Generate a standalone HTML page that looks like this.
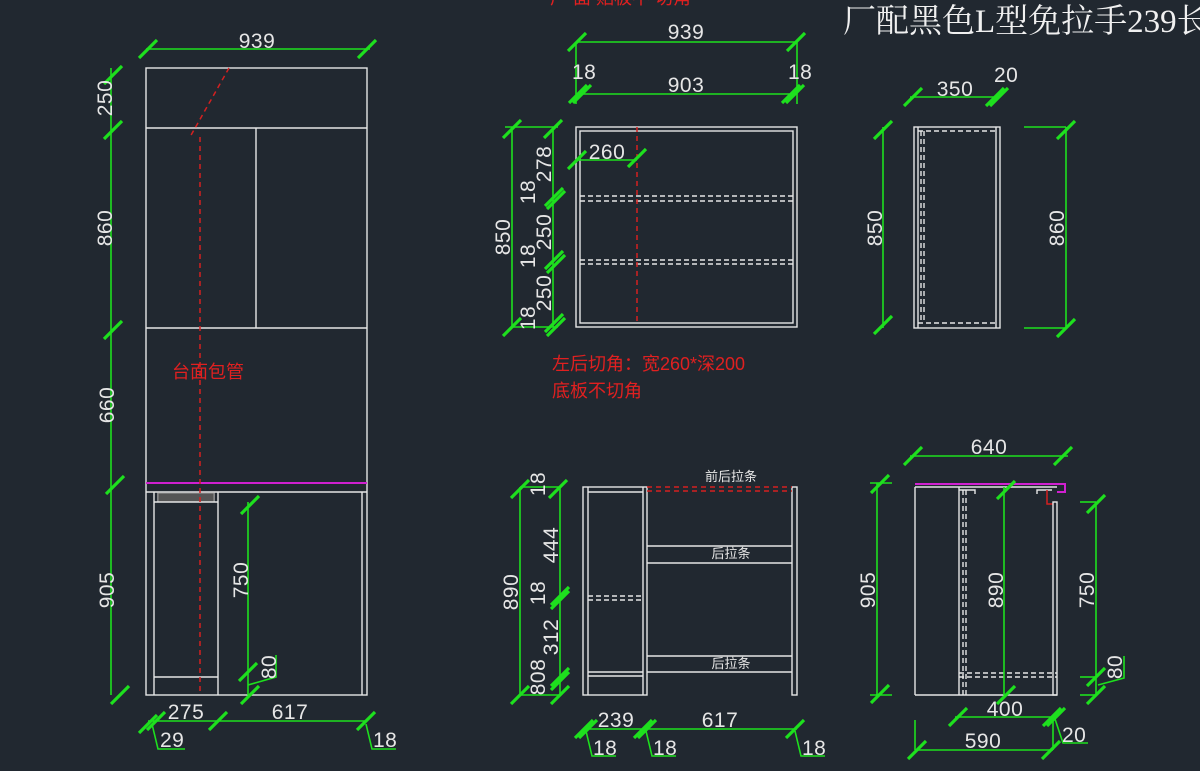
<!DOCTYPE html>
<html><head><meta charset="utf-8"><style>
body{margin:0;background:#212830;}
svg{display:block}
text{font-family:"Liberation Sans","Noto Sans CJK SC",sans-serif;fill:#e6e6e6;font-size:21px;letter-spacing:0.5px}
.c{text-anchor:middle}
.g{stroke:#1ee01e;stroke-width:1.6;fill:none}
.w{stroke:#e6e6e6;stroke-width:1.4;fill:none}
.wd{stroke:#e6e6e6;stroke-width:1.4;fill:none;stroke-dasharray:5 3}
.r{stroke:#d42020;stroke-width:1.5;fill:none;stroke-dasharray:5 4}
.m{stroke:#d020d0;stroke-width:2;fill:none}
.red{fill:#e02020;font-size:18px;letter-spacing:0}
</style></head><body>
<svg width="1200" height="771" viewBox="0 0 1200 771" xmlns="http://www.w3.org/2000/svg">
<defs><path id="t" d="M-9 9L9 -9" stroke="#1ee01e" stroke-width="3.2"/></defs>

<!-- title -->
<text x="843" y="32" style="font-family:'Liberation Serif','Noto Serif CJK SC',serif;font-size:33px;fill:#f0f0f0;letter-spacing:0">厂配黑色L型免拉手239长</text>
<text x="550" y="4" class="red">广 面 贴板不 切角</text>

<!-- ========== LEFT ELEVATION ========== -->
<rect x="146" y="68" width="221" height="627" class="w"/>
<line x1="146" y1="128" x2="367" y2="128" class="w"/>
<line x1="146" y1="328" x2="367" y2="328" class="w"/>
<line x1="256" y1="128" x2="256" y2="328" class="w"/>
<line x1="146" y1="483" x2="367" y2="483" class="m"/>
<line x1="146" y1="492" x2="367" y2="492" class="w"/>
<line x1="154" y1="492" x2="154" y2="695" class="w"/>
<line x1="218" y1="492" x2="218" y2="695" class="w"/>
<line x1="362" y1="492" x2="362" y2="695" class="w"/>
<line x1="158" y1="492" x2="158" y2="502" class="w"/>
<line x1="214" y1="492" x2="214" y2="502" class="w"/>
<rect x="158" y="493" width="56" height="9" fill="#555" stroke="#999" stroke-width="1"/>
<line x1="154" y1="502" x2="218" y2="502" class="w"/>
<line x1="154" y1="677" x2="218" y2="677" class="w"/>
<line x1="200" y1="137" x2="200" y2="695" class="r"/>
<line x1="229" y1="68" x2="190" y2="137" class="r"/>
<text x="172" y="378" class="red">台面包管</text>
<!-- dims -->
<line x1="146" y1="49" x2="370" y2="49" class="g"/>
<use href="#t" x="148" y="49"/><use href="#t" x="367" y="49"/>
<text x="257" y="48" class="c">939</text>
<line x1="111" y1="68" x2="111" y2="695" class="g"/>
<use href="#t" x="113" y="75"/><use href="#t" x="113" y="130"/><use href="#t" x="113" y="330"/><use href="#t" x="115" y="485"/><use href="#t" x="120" y="695"/>
<text transform="translate(112,98) rotate(-90)" class="c">250</text>
<text transform="translate(112,228) rotate(-90)" class="c">860</text>
<text transform="translate(114,405) rotate(-90)" class="c">660</text>
<text transform="translate(114,590) rotate(-90)" class="c">905</text>
<line x1="248" y1="502" x2="248" y2="695" class="g"/>
<use href="#t" x="250" y="505"/><use href="#t" x="248" y="672"/><use href="#t" x="250" y="695"/>
<text transform="translate(248,580) rotate(-90)" class="c">750</text>
<polyline points="248,685 276,677 276,655" class="g"/>
<text transform="translate(276,667) rotate(-90)" class="c">80</text>
<line x1="148" y1="721" x2="367" y2="721" class="g"/>
<use href="#t" x="148" y="724"/><use href="#t" x="156" y="721"/><use href="#t" x="218" y="721"/><use href="#t" x="366" y="721"/>
<text x="186" y="719" class="c">275</text><text x="290" y="719" class="c">617</text>
<polyline points="152,724 158,749 185,749" class="g"/><text x="160" y="747">29</text>
<polyline points="366,724 372,749 396,749" class="g"/><text x="373" y="747">18</text>

<!-- ========== MIDDLE TOP ========== -->
<line x1="576" y1="42" x2="797" y2="42" class="g"/>
<use href="#t" x="577" y="42"/><use href="#t" x="796" y="42"/>
<text x="686" y="39" class="c">939</text>
<line x1="576" y1="42" x2="576" y2="104" class="g"/><line x1="797" y1="42" x2="797" y2="104" class="g"/>
<line x1="576" y1="94" x2="796" y2="94" class="g"/>
<use href="#t" x="578" y="94"/><use href="#t" x="582" y="94"/><use href="#t" x="791" y="94"/><use href="#t" x="795" y="94"/>
<text x="686" y="92" class="c">903</text>
<text x="572" y="79">18</text><text x="788" y="79">18</text>
<rect x="576" y="127" width="221" height="200" class="w"/>
<rect x="580" y="131" width="213" height="192" class="w"/>
<line x1="580" y1="196" x2="793" y2="196" class="wd"/><line x1="580" y1="201" x2="793" y2="201" class="wd"/>
<line x1="580" y1="260" x2="793" y2="260" class="wd"/><line x1="580" y1="264" x2="793" y2="264" class="wd"/>
<line x1="637" y1="127" x2="637" y2="323" class="r"/>
<line x1="576" y1="160" x2="637" y2="160" class="g"/>
<use href="#t" x="577" y="160"/><use href="#t" x="637" y="158"/>
<text x="607" y="159" class="c">260</text>
<line x1="512" y1="127" x2="512" y2="327" class="g"/>
<line x1="505" y1="127" x2="558" y2="127" class="g"/>
<line x1="512" y1="327" x2="558" y2="327" class="g"/>
<use href="#t" x="512" y="129"/><use href="#t" x="512" y="327"/>
<line x1="553" y1="127" x2="553" y2="327" class="g"/>
<use href="#t" x="553" y="129"/><use href="#t" x="554" y="197"/><use href="#t" x="556" y="200"/><use href="#t" x="554" y="260"/><use href="#t" x="556" y="264"/><use href="#t" x="554" y="323"/><use href="#t" x="556" y="327"/>
<text transform="translate(510,237) rotate(-90)" class="c">850</text>
<text transform="translate(551,164) rotate(-90)" class="c">278</text>
<text transform="translate(535,192) rotate(-90)" class="c">18</text>
<text transform="translate(551,232) rotate(-90)" class="c">250</text>
<text transform="translate(535,256) rotate(-90)" class="c">18</text>
<text transform="translate(551,293) rotate(-90)" class="c">250</text>
<text transform="translate(535,318) rotate(-90)" class="c">18</text>
<text x="552" y="370" class="red">左后切角：宽260*深200</text>
<text x="552" y="397" class="red">底板不切角</text>

<!-- ========== MIDDLE BOTTOM ========== -->
<rect x="583" y="487" width="64" height="208" class="w"/>
<line x1="588" y1="487" x2="588" y2="695" class="w"/>
<line x1="643" y1="487" x2="643" y2="695" class="w"/>
<line x1="588" y1="492" x2="643" y2="492" class="w"/>
<line x1="588" y1="672" x2="643" y2="672" class="w"/>
<line x1="588" y1="676" x2="643" y2="676" class="w"/>
<line x1="588" y1="596" x2="643" y2="596" class="wd"/><line x1="588" y1="600" x2="643" y2="600" class="wd"/>
<rect x="792" y="487" width="5" height="208" class="w"/>
<line x1="647" y1="487" x2="792" y2="487" class="r"/><line x1="647" y1="491" x2="792" y2="491" class="r"/>
<line x1="647" y1="546" x2="792" y2="546" class="w"/><line x1="647" y1="563" x2="792" y2="563" class="w"/>
<line x1="647" y1="656" x2="792" y2="656" class="w"/><line x1="647" y1="672" x2="792" y2="672" class="w"/>
<text x="731" y="481" class="c" style="font-size:13px;letter-spacing:0">前后拉条</text>
<text x="731" y="558" class="c" style="font-size:13px;letter-spacing:0">后拉条</text>
<text x="731" y="668" class="c" style="font-size:13px;letter-spacing:0">后拉条</text>
<line x1="520" y1="487" x2="520" y2="695" class="g"/>
<line x1="520" y1="487" x2="560" y2="487" class="g"/><line x1="520" y1="695" x2="560" y2="695" class="g"/>
<line x1="560" y1="487" x2="560" y2="695" class="g"/>
<use href="#t" x="520" y="489"/><use href="#t" x="520" y="695"/>
<use href="#t" x="558" y="489"/><use href="#t" x="560" y="596"/><use href="#t" x="560" y="600"/><use href="#t" x="560" y="677"/><use href="#t" x="560" y="681"/><use href="#t" x="560" y="695"/>
<text transform="translate(518,592) rotate(-90)" class="c">890</text>
<text transform="translate(545,484) rotate(-90)" class="c">18</text>
<text transform="translate(558,545) rotate(-90)" class="c">444</text>
<text transform="translate(545,593) rotate(-90)" class="c">18</text>
<text transform="translate(558,637) rotate(-90)" class="c">312</text>
<text transform="translate(545,677) rotate(-90)" class="c">808</text>
<line x1="583" y1="729" x2="797" y2="729" class="g"/>
<use href="#t" x="584" y="729"/><use href="#t" x="588" y="729"/><use href="#t" x="643" y="729"/><use href="#t" x="647" y="729"/><use href="#t" x="795" y="729"/>
<text x="616" y="727" class="c">239</text><text x="720" y="727" class="c">617</text>
<polyline points="586,731 592,756 616,756" class="g"/><text x="593" y="755">18</text>
<polyline points="646,731 652,756 676,756" class="g"/><text x="653" y="755">18</text>
<polyline points="795,731 801,756 825,756" class="g"/><text x="802" y="755">18</text>

<!-- ========== RIGHT TOP ========== -->
<rect x="914" y="127" width="86" height="201" class="w"/>
<line x1="918" y1="127" x2="918" y2="328" class="w"/>
<line x1="921" y1="131" x2="921" y2="323" class="wd"/><line x1="924" y1="131" x2="924" y2="323" class="wd"/>
<line x1="918" y1="131" x2="996" y2="131" class="wd"/>
<line x1="918" y1="323" x2="996" y2="323" class="wd"/>
<line x1="996" y1="127" x2="996" y2="328" class="w"/>
<line x1="910" y1="97" x2="1000" y2="97" class="g"/>
<use href="#t" x="913" y="97"/><use href="#t" x="995" y="97"/><use href="#t" x="999" y="97"/>
<text x="955" y="96" class="c">350</text><text x="994" y="82">20</text>
<line x1="883" y1="127" x2="883" y2="328" class="g"/>
<use href="#t" x="883" y="130"/><use href="#t" x="883" y="325"/>
<text transform="translate(882,228) rotate(-90)" class="c">850</text>
<line x1="1066" y1="127" x2="1066" y2="328" class="g"/>
<line x1="1024" y1="127" x2="1066" y2="127" class="g"/><line x1="1024" y1="328" x2="1066" y2="328" class="g"/>
<use href="#t" x="1066" y="130"/><use href="#t" x="1066" y="328"/>
<text transform="translate(1064,228) rotate(-90)" class="c">860</text>

<!-- ========== RIGHT BOTTOM ========== -->
<line x1="915" y1="484" x2="1064" y2="484" class="m"/>
<polyline points="1057,484 1065,484 1065,492 1057,492" class="m"/>
<line x1="915" y1="487" x2="1057" y2="487" class="w"/>
<line x1="915" y1="487" x2="915" y2="695" class="w"/>
<line x1="915" y1="695" x2="1057" y2="695" class="w"/>
<line x1="959" y1="487" x2="959" y2="695" class="w"/>
<line x1="963" y1="490" x2="963" y2="695" class="wd"/><line x1="966" y1="490" x2="966" y2="695" class="wd"/>
<line x1="959" y1="673" x2="1057" y2="673" class="wd"/><line x1="959" y1="677" x2="1057" y2="677" class="wd"/>
<polyline points="959,490 975,490 975,494" class="w"/>
<polyline points="1037,494 1037,490 1052,490" class="w"/>
<polyline points="1047,490 1047,504 1053,504" stroke="#d42020" stroke-width="1.5" fill="none"/>
<rect x="1053" y="502" width="4" height="193" class="w"/>
<line x1="1004" y1="487" x2="1004" y2="695" class="g"/>
<use href="#t" x="1006" y="490"/><use href="#t" x="1006" y="695"/>
<text transform="translate(1003,590) rotate(-90)" class="c">890</text>
<line x1="910" y1="456" x2="1068" y2="456" class="g"/>
<use href="#t" x="913" y="456"/><use href="#t" x="1063" y="456"/>
<text x="989" y="454" class="c">640</text>
<line x1="877" y1="483" x2="877" y2="695" class="g"/>
<use href="#t" x="880" y="484"/><use href="#t" x="880" y="694"/>
<line x1="870" y1="483" x2="892" y2="483" class="g"/><line x1="870" y1="695" x2="892" y2="695" class="g"/>
<text transform="translate(875,590) rotate(-90)" class="c">905</text>
<line x1="1096" y1="502" x2="1096" y2="695" class="g"/>
<line x1="1080" y1="502" x2="1096" y2="502" class="g"/><line x1="1080" y1="677" x2="1096" y2="677" class="g"/><line x1="1080" y1="695" x2="1096" y2="695" class="g"/>
<use href="#t" x="1096" y="504"/><use href="#t" x="1096" y="677"/><use href="#t" x="1096" y="695"/>
<text transform="translate(1094,590) rotate(-90)" class="c">750</text>
<polyline points="1098,685 1124,678 1124,656" class="g"/>
<text transform="translate(1122,667) rotate(-90)" class="c">80</text>
<line x1="955" y1="717" x2="1054" y2="717" class="g"/>
<use href="#t" x="958" y="717"/><use href="#t" x="1052" y="717"/><use href="#t" x="1056" y="717"/>
<text x="1005" y="716" class="c">400</text>
<line x1="915" y1="720" x2="915" y2="750" class="g"/>
<line x1="1053" y1="717" x2="1053" y2="750" class="g"/>
<line x1="915" y1="750" x2="1053" y2="750" class="g"/>
<use href="#t" x="917" y="750"/><use href="#t" x="1051" y="750"/>
<text x="983" y="748" class="c">590</text>
<polyline points="1055,719 1063,743 1088,743" class="g"/><text x="1062" y="742">20</text>
</svg>
</body></html>
